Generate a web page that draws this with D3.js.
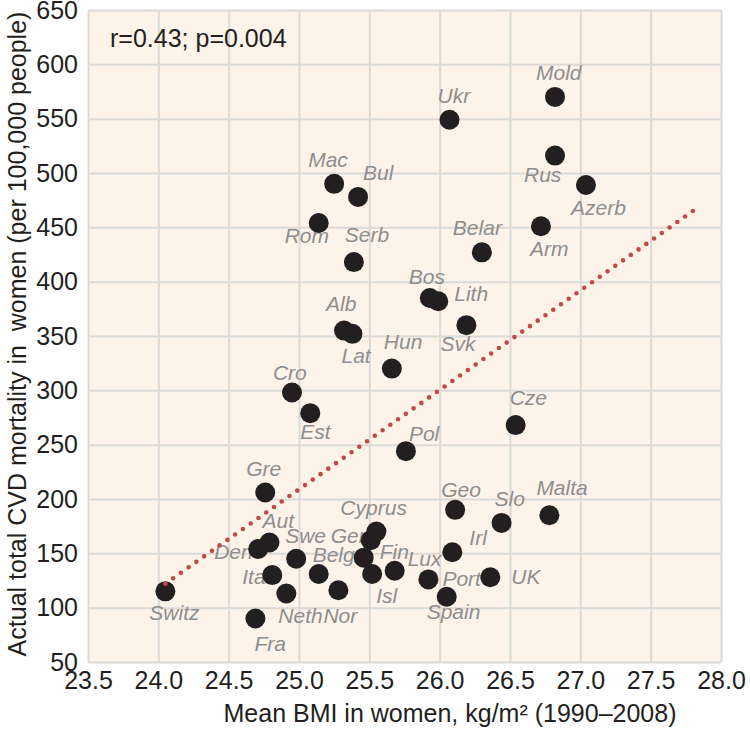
<!DOCTYPE html>
<html>
<head>
<meta charset="utf-8">
<script src="https://cdn.jsdelivr.net/npm/d3@7"></script>
<style>
  html, body { margin: 0; padding: 0; background: #ffffff; }
  svg { display: block; }
  text { font-family: "Liberation Sans", Arial, Helvetica, sans-serif; }
</style>
</head>
<body>
<svg id="chart" width="750" height="729"></svg>
<script>
// ---- Data ----
const countries = ["Switz","Fra","Gre","Den","Aut","Ita","Neth","Nor","Swe","Ger","Belg","Cyprus","Fin","Isl","Lux","Port","Spain","Irl","Geo","UK","Slo","Malta",
  "Serb","Rom","Mac","Bul","Ukr","Mold","Rus","Azerb","Belar","Arm","Bos","Lith","Svk","Alb","Lat","Hun","Cro","Est","Pol","Cze"];
const bmi = [24.05,24.69,24.76,24.71,24.79,24.81,24.91,25.28,24.98,25.51,25.14,25.55,25.46,25.52,25.68,25.92,26.05,26.09,26.11,26.36,26.44,26.78,
  25.39,25.14,25.25,25.42,26.07,26.82,26.82,27.04,26.30,26.72,25.93,25.99,26.19,25.32,25.38,25.66,24.95,25.08,25.76,26.54];
const cvd = [115,90,206,154,160,130,113,116,145,162,131,170,146,131,134,126,110,151,190,128,178,185,
  418,454,490,478,549,570,516,489,427,451,385,382,360,355,352,320,298,279,244,268];
const xTicks = [23.5,24.0,24.5,25.0,25.5,26.0,26.5,27.0,27.5,28.0];
const yTicks = [50,100,150,200,250,300,350,400,450,500,550,600,650];
const trendX = [24.05, 27.80];
const trendY = [122, 465];
const annotation = "r=0.43; p=0.004";
const xTitle = "Mean BMI in women, kg/m\u00B2 (1990\u20132008)";
const yTitle = "Actual total CVD mortality in \u00A0women (per 100,000 people)";

// label offsets (px) from each point: [dx, dy] for text start / baseline
const labelOffsets = {
  Switz:[-16,29], Fra:[-1,32], Gre:[-19,-16], Den:[-44,10], Aut:[-7,-14], Ita:[-30,9], Neth:[-8,29], Nor:[-15,33],
  Swe:[-11,-16], Ger:[-40,3], Belg:[-6,-12], Cyprus:[-36,-17], Fin:[16,1], Isl:[4,29], Lux:[13,-5], Port:[14,7],
  Spain:[-20,22], Irl:[17,-7], Geo:[-14,-13], UK:[21,7], Slo:[-7,-17], Malta:[-13,-20],
  Serb:[-9,-20], Rom:[-34,20], Mac:[-26,-17], Bul:[5,-17], Ukr:[-12,-17], Mold:[-19,-17], Rus:[-31,26], Azerb:[-15,30],
  Belar:[-29,-17], Arm:[-11,30], Bos:[-21,-14], Lith:[16,0], Svk:[-26,26], Alb:[-18,-20], Lat:[-11,29], Hun:[-8,-20],
  Cro:[-19,-13], Est:[-10,26], Pol:[3,-10], Cze:[-6,-20]
};

// ---- Layout ----
const svg = d3.select("#chart");
const plot = { left: 88, right: 721, top: 10, bottom: 662 };
const x = d3.scaleLinear().domain([23.5, 28.0]).range([plot.left, plot.right]);
const y = d3.scaleLinear().domain([50, 650]).range([plot.bottom, plot.top]);

// background
svg.append("rect")
  .attr("x", plot.left).attr("y", plot.top)
  .attr("width", plot.right - plot.left).attr("height", plot.bottom - plot.top)
  .attr("fill", "#fdf3e9");

// grid
const gridColor = "#dcdad7";
const gx = svg.append("g").attr("transform", `translate(0,${plot.bottom})`)
  .call(d3.axisBottom(x).tickValues(xTicks).tickSize(-(plot.bottom - plot.top)).tickFormat(""));
gx.select(".domain").remove();
gx.selectAll(".tick line").attr("stroke", gridColor).attr("stroke-width", 2);

const gy = svg.append("g").attr("transform", `translate(${plot.left},0)`)
  .call(d3.axisLeft(y).tickValues(yTicks).tickSize(-(plot.right - plot.left)).tickFormat(""));
gy.select(".domain").remove();
gy.selectAll(".tick line").attr("stroke", gridColor).attr("stroke-width", 2);

// tick labels
const ax = svg.append("g").attr("transform", `translate(0,${plot.bottom})`)
  .call(d3.axisBottom(x).tickValues(xTicks).tickSize(0).tickPadding(9).tickFormat(d3.format(".1f")));
ax.select(".domain").remove();
ax.selectAll("text").attr("font-size", 25).attr("fill", "#231f20")
  .attr("font-family", "'Liberation Sans', Arial, sans-serif");

const ay = svg.append("g").attr("transform", `translate(${plot.left},0)`)
  .call(d3.axisLeft(y).tickValues(yTicks).tickSize(0).tickPadding(10).tickFormat(d3.format("d")));
ay.select(".domain").remove();
ay.selectAll("text").attr("font-size", 25).attr("fill", "#231f20")
  .attr("font-family", "'Liberation Sans', Arial, sans-serif");

// axis titles
svg.append("text")
  .attr("x", 450).attr("y", 722)
  .attr("text-anchor", "middle")
  .attr("font-size", 25).attr("fill", "#231f20")
  .text(xTitle);

svg.append("text")
  .attr("transform", `translate(26,334) rotate(-90)`)
  .attr("text-anchor", "middle")
  .attr("font-size", 25).attr("fill", "#231f20")
  .text(yTitle);

// annotation
svg.append("text")
  .attr("x", 110).attr("y", 47)
  .attr("font-size", 25).attr("fill", "#231f20")
  .text(annotation);

// points
const data = countries.map((c, i) => ({ name: c, bmi: bmi[i], cvd: cvd[i] }));

svg.append("g").selectAll("text")
  .data(data).join("text")
  .attr("x", d => x(d.bmi) + labelOffsets[d.name][0])
  .attr("y", d => y(d.cvd) + labelOffsets[d.name][1])
  .attr("font-size", 21).attr("font-style", "italic")
  .attr("fill", "#8e8e8e")
  .text(d => d.name);

svg.append("g").selectAll("circle")
  .data(data).join("circle")
  .attr("cx", d => x(d.bmi))
  .attr("cy", d => y(d.cvd))
  .attr("r", 10)
  .attr("fill", "#231f20");

// trend line (dotted)
const line = d3.line().x(d => x(d[0])).y(d => y(d[1]));
const trend = svg.append("path")
  .datum(trendX.map((v, i) => [v, trendY[i]]))
  .attr("d", line)
  .attr("fill", "none")
  .attr("stroke", "#c04a4a")
  .attr("stroke-width", 4.6)
  .attr("stroke-linecap", "round");
const len = trend.node().getTotalLength();
const gap = len / Math.round(len / 9.5);
trend.attr("stroke-dasharray", `0 ${gap}`);
</script>
</body>
</html>
